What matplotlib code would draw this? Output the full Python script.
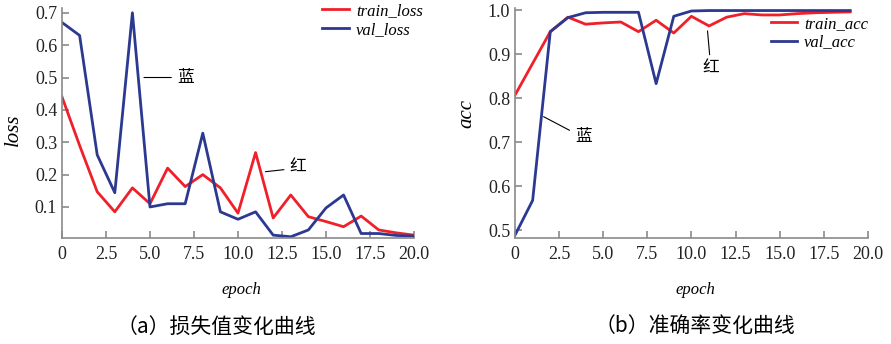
import matplotlib
matplotlib.use('Agg')
from matplotlib import pyplot as plt

plt.rcParams['font.family'] = ['Liberation Serif', 'Noto Sans CJK SC']

# data
epochs = list(range(21))
train_loss = [0.44, 0.29, 0.147, 0.085, 0.159, 0.11, 0.22, 0.163, 0.20, 0.159, 0.081,
              0.268, 0.066, 0.137, 0.07, 0.055, 0.039, 0.072, 0.029, 0.02, 0.013]
val_loss = [0.67, 0.63, 0.261, 0.144, 0.70, 0.10, 0.11, 0.11, 0.328, 0.085, 0.062,
            0.085, 0.013, 0.008, 0.029, 0.097, 0.137, 0.018, 0.018, 0.012, 0.010]

acc_epochs = list(range(20))
train_acc = [0.807, 0.879, 0.951, 0.984, 0.968, 0.971, 0.973, 0.951, 0.977, 0.948,
             0.986, 0.964, 0.984, 0.992, 0.989, 0.989, 0.992, 0.994, 0.995, 0.996]
val_acc = [0.489, 0.568, 0.951, 0.983, 0.994, 0.995, 0.995, 0.995, 0.833, 0.986,
           0.998, 0.999, 0.999, 0.999, 0.999, 0.999, 0.999, 0.999, 0.999, 0.999]

xticks = [0, 2.5, 5, 7.5, 10, 12.5, 15, 17.5, 20]
xtick_labels = ['0', '2.5', '5.0', '7.5', '10.0', '12.5', '15.0', '17.5', '20.0']

RED = '#f0202a'
BLUE = '#2c3990'
GREY = '#8a8a8a'

fig = plt.figure(figsize=(8.91, 3.44), dpi=100)
ax1 = fig.add_axes([0.0696, 0.308, 0.395, 0.669])
ax2 = fig.add_axes([0.578, 0.308, 0.396, 0.669])


def style(ax):
    for s in ['top', 'right']:
        ax.spines[s].set_visible(False)
    for s in ['left', 'bottom']:
        ax.spines[s].set_color(GREY)
        ax.spines[s].set_linewidth(1.2)
    ax.set_xlim(0, 20)
    ax.set_xticks(xticks)
    ax.set_xticklabels(xtick_labels)
    ax.tick_params(axis='both', direction='in', length=5, width=1.2, color=GREY,
                   labelsize=13, labelcolor='#222222')
    ax.tick_params(axis='x', pad=6)
    ax.set_xlabel('epoch', fontsize=12, style='italic')
    ax.xaxis.set_label_coords(0.51, -0.19)


# (a) loss
ax1.plot(epochs, train_loss, color=RED, lw=2, label='train_loss')
ax1.plot(epochs, val_loss, color=BLUE, lw=2, label='val_loss')
style(ax1)
ax1.set_ylim(0.004, 0.715)
ax1.set_yticks([0.1, 0.2, 0.3, 0.4, 0.5, 0.6, 0.7])
ax1.set_ylabel('loss', fontsize=15, style='italic')
ax1.yaxis.set_label_coords(-0.11, 0.47)
ax1.legend(loc='upper left', bbox_to_anchor=(0.74, 1.02), frameon=False,
           borderpad=0, borderaxespad=0, handlelength=1.6, handletextpad=0.4,
           labelspacing=0.15, prop={'style': 'italic', 'size': 12})
ax1.annotate('蓝', xy=(4.5, 0.50), xytext=(7.0, 0.50), ha='center', va='center',
             fontsize=12, arrowprops=dict(arrowstyle='-', color='black', lw=0.8))
ax1.annotate('红', xy=(11.4, 0.208), xytext=(13.4, 0.22), ha='center', va='center',
             fontsize=12, arrowprops=dict(arrowstyle='-', color='black', lw=0.8))

# (b) accuracy
ax2.plot(acc_epochs, train_acc, color=RED, lw=2, label='train_acc')
ax2.plot(acc_epochs, val_acc, color=BLUE, lw=2, label='val_acc')
style(ax2)
ax2.set_ylim(0.4825, 1.005)
ax2.set_yticks([0.5, 0.6, 0.7, 0.8, 0.9, 1.0])
ax2.set_ylabel('acc', fontsize=15, style='italic')
ax2.yaxis.set_label_coords(-0.11, 0.54)
ax2.legend(loc='upper left', bbox_to_anchor=(0.725, 0.965), frameon=False,
           borderpad=0, borderaxespad=0, handlelength=1.6, handletextpad=0.4,
           labelspacing=0.15, prop={'style': 'italic', 'size': 12})
ax2.annotate('红', xy=(10.9, 0.959), xytext=(11.1, 0.868), ha='center', va='center',
             fontsize=12, arrowprops=dict(arrowstyle='-', color='black', lw=0.8))
ax2.annotate('蓝', xy=(1.48, 0.761), xytext=(3.86, 0.711), ha='center', va='center',
             fontsize=12, arrowprops=dict(arrowstyle='-', color='black', lw=0.8))

# captions
fig.text(216 / 891, 0.049, '（a）损失值变化曲线', ha='center', va='center', fontsize=15,
         family=['Noto Sans CJK SC', 'DejaVu Sans'])
fig.text(695 / 891, 0.049, '（b）准确率变化曲线', ha='center', va='center', fontsize=15,
         family=['Noto Sans CJK SC', 'DejaVu Sans'])

plt.savefig('out.png', dpi=100)
